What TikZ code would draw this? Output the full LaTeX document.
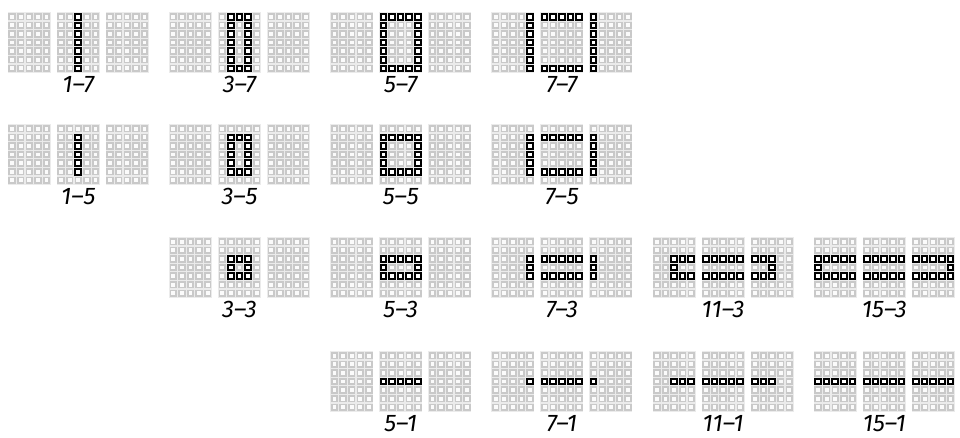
\documentclass[tikz,border=0pt]{standalone}
\usepackage{fontspec}
\setmainfont{Fira Sans}
\usepackage{tikz}
\usetikzlibrary{positioning}

% one panel: three 5x7 dot grids, lit cells trace a w x h frame
\newcommand{\ledpanel}[4]{%
  \pgfmathsetmacro\xo{8.3+161.2*#1}
  \pgfmathtruncatemacro\cmin{(15-#3)/2}
  \pgfmathtruncatemacro\cmax{(15+#3)/2-1}
  \pgfmathtruncatemacro\rmin{(7-#4)/2}
  \pgfmathtruncatemacro\rmax{(7+#4)/2-1}
  \foreach \g in {0,1,2}{
    \fill[pad] (\xo+\g*49-0.6,#2-0.6) rectangle ++(43,60.2);
  }
  \foreach \c in {0,...,14}{
    \foreach \r in {0,...,6}{
      \pgfmathtruncatemacro\gg{int(\c/5)}
      \pgfmathsetmacro\cx{\xo+\gg*49+(\c-5*\gg)*8.6}
      \pgfmathsetmacro\cy{#2+\r*8.6}
      \pgfmathtruncatemacro\on{and(and(\c>=\cmin,\c<=\cmax),and(\r>=\rmin,\r<=\rmax))
        && or(or(\c==\cmin,\c==\cmax),or(\r==\rmin,\r==\rmax))}
      \ifnum\on=1
        \draw[lit] (\cx+0.9,\cy+0.9) rectangle ++(5.6,5.6);
      \else
        \draw[cell] (\cx+0.9,\cy+0.9) rectangle ++(5.6,5.6);
      \fi
    }
  }
  \node[lbl] (lbl-#3-#4) at (\xo+70,#2+79) {#3–#4};
}

\begin{document}
\begin{tikzpicture}[
  x=1pt, y=-1pt,
  pad/.style={fill=gray!16},
  cell/.style={draw=gray!42, fill=gray!3, line width=1.8pt},
  lit/.style={draw=black, fill=white, line width=2pt},
  lbl/.style={anchor=base, inner sep=0pt,
              font=\fontsize{24}{28}\selectfont\itshape}
]
\useasboundingbox (0,0) rectangle (960,437);

\foreach \k/\y/\w/\h in {0/13/1/7, 1/13/3/7, 2/13/5/7, 3/13/7/7,
                         0/125/1/5, 1/125/3/5, 2/125/5/5, 3/125/7/5,
                         1/238/3/3, 2/238/5/3, 3/238/7/3, 4/238/11/3, 5/238/15/3,
                         2/352/5/1, 3/352/7/1, 4/352/11/1, 5/352/15/1}
  {\ledpanel{\k}{\y}{\w}{\h}}
\end{tikzpicture}
\end{document}
